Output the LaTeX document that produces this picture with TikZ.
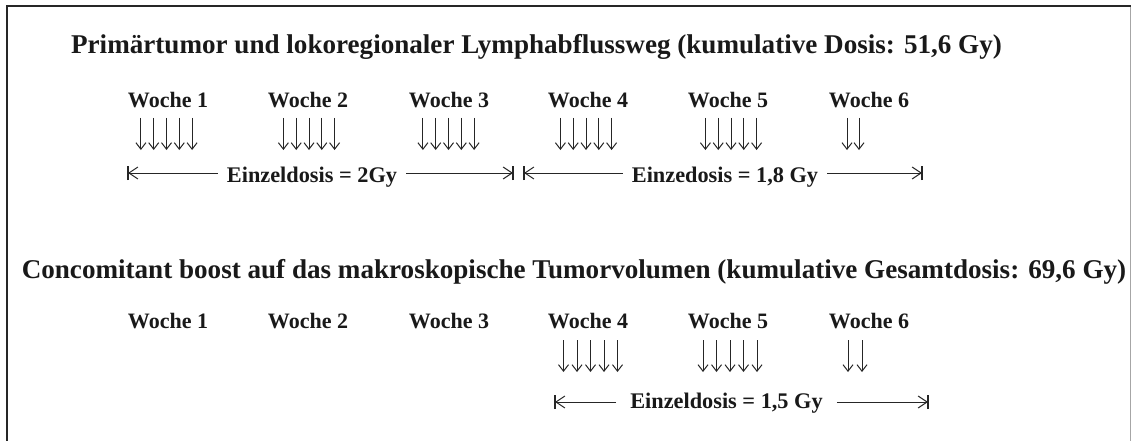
\documentclass[tikz,border=0pt]{standalone}
\usepackage{fontspec}
\setmainfont{Liberation Serif}
\usetikzlibrary{arrows.meta}
\begin{document}
\begin{tikzpicture}[x=1pt,y=-1pt,
  titletext/.style={font=\bfseries\fontsize{27.1}{31}\selectfont, anchor=base, inner sep=0pt, text=black!90},
  week/.style={font=\bfseries\fontsize{22}{26}\selectfont, anchor=base, inner sep=0pt, text=black!90},
  dose/.style={font=\bfseries\fontsize{22.3}{26}\selectfont, anchor=base, inner ysep=0pt, text=black!90},
  frameline/.style={line width=2pt, black!85},
  downarr/.style={line width=1pt, black!85, -{Straight Barb[length=6.5pt,width=10pt]}},
  dimline/.style={line width=1pt, black!85, -{Straight Barb[length=9pt,width=12pt]}},
  barline/.style={line width=1.2pt, black!85},
]
\useasboundingbox (0,0) rectangle (1131,441);
\fill[white] (0,0) rectangle (1131,441);
% frame
\draw[frameline] (6.5,441) -- (6.5,6.5) -- (1131,6.5);
\draw[line width=1pt, black!35] (1130.5,7) -- (1130.5,441);

% titles
\node[titletext] (t1) at (536.5,54) {Primärtumor und lokoregionaler Lymphabflussweg (kumulative Dosis: 51,6 Gy)};
\node[titletext] (t2) at (574,278) {Concomitant boost auf das makroskopische Tumorvolumen (kumulative Gesamtdosis: 69,6 Gy)};

% row 1 weeks
\foreach \x [count=\n] in {168,308,449,588,728,869}
  \node[week] (a\n) at (\x,108) {Woche \n};
% row 2 weeks
\foreach \x [count=\n] in {168,308,449,588,728,869}
  \node[week] (b\n) at (\x,328) {Woche \n};

% row 1 down arrows
\foreach \cx in {166.5,309,448.5,586,731}
  \foreach \i in {-2,...,2}
    \draw[downarr] (\cx+\i*12.8,118) -- (\cx+\i*12.8,150);
\foreach \cx in {847,859}
  \draw[downarr] (\cx,118) -- (\cx,150);

% row 2 down arrows
\foreach \cx in {590.5,730}
  \foreach \i in {-2,...,2}
    \draw[downarr] (\cx+\i*13.5,340) -- (\cx+\i*13.5,372);
\foreach \cx in {848,862}
  \draw[downarr] (\cx,340) -- (\cx,372);

% row 1 dose lines
\coordinate (p1L) at (128,173);
\coordinate (p1R) at (513,173);
\coordinate (p2L) at (524,173);
\coordinate (p2R) at (922,173);
\node[dose, inner xsep=9pt] (d1) at (312,182) {Einzeldosis = 2Gy};
\node[dose, inner xsep=9pt] (d2) at (725,182) {Einzedosis = 1,8 Gy};
\draw[dimline] (d1.west |- p1L) -- (p1L);
\draw[dimline] (d1.east |- p1R) -- (p1R);
\draw[dimline] (d2.west |- p2L) -- (p2L);
\draw[dimline] (d2.east |- p2R) -- (p2R);
\foreach \p in {p1L,p1R,p2L,p2R}
  \draw[barline] ([yshift=-7pt]\p) -- ([yshift=7pt]\p);

% row 2 dose line
\coordinate (p3L) at (555,402);
\coordinate (p3R) at (928,402);
\node[dose, inner xsep=14pt] (d3) at (726.5,408) {Einzeldosis = 1,5 Gy};
\draw[dimline] (d3.west |- p3L) -- (p3L);
\draw[dimline] (d3.east |- p3R) -- (p3R);
\foreach \p in {p3L,p3R}
  \draw[barline] ([yshift=-7pt]\p) -- ([yshift=7pt]\p);
\end{tikzpicture}
\end{document}
